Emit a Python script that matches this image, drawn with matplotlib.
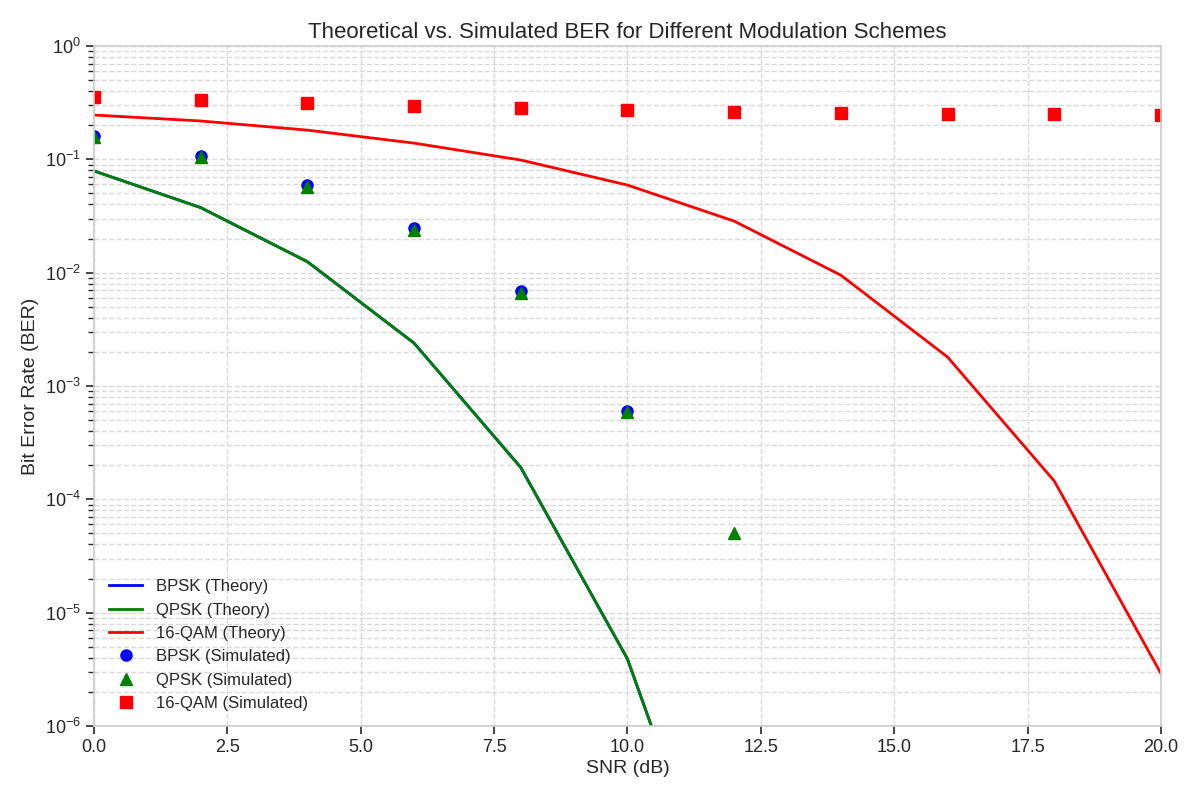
import numpy as np
import matplotlib
matplotlib.use("Agg")
from matplotlib import pyplot as plt

# SNR points in dB
snr_db = [0, 2, 4, 6, 8, 10, 12, 14, 16, 18, 20]

# Theoretical curves (BPSK and QPSK overlap)
ber_bpsk_theory = [7.9e-2, 3.75e-2, 1.25e-2, 2.39e-3, 1.91e-4, 3.9e-6, 9.0e-9, 6.8e-13, 2.3e-19, 1e-26, 1e-36]
ber_qpsk_theory = [7.9e-2, 3.75e-2, 1.25e-2, 2.39e-3, 1.91e-4, 3.9e-6, 9.0e-9, 6.8e-13, 2.3e-19, 1e-26, 1e-36]
ber_qam16_theory = [0.246, 0.218, 0.181, 0.139, 0.0986, 0.0593, 0.0285, 0.0095, 0.0018, 1.45e-4, 2.9e-6]

# Simulated points (nan = no errors counted)
ber_bpsk_sim = [0.160, 0.107, 0.059, 0.0248, 0.0069, 6.0e-4, np.nan, np.nan, np.nan, np.nan, np.nan]
ber_qpsk_sim = [0.158, 0.104, 0.057, 0.0240, 0.0066, 5.9e-4, 5.0e-5, np.nan, np.nan, np.nan, np.nan]
ber_qam16_sim = [0.355, 0.334, 0.314, 0.295, 0.284, 0.272, 0.262, 0.256, 0.251, 0.251, 0.246]

plt.rcParams['font.family'] = ['Liberation Sans', 'DejaVu Sans']
plt.rcParams['mathtext.default'] = 'regular'
plt.rcParams['text.color'] = '#262626'
plt.rcParams['axes.labelcolor'] = '#262626'
plt.rcParams['xtick.color'] = '#262626'
plt.rcParams['ytick.color'] = '#262626'

fig, ax = plt.subplots(figsize=(12, 8), dpi=100)
fig.subplots_adjust(left=0.0783, right=0.9675, top=0.9425, bottom=0.0925)

ax.semilogy(snr_db, ber_bpsk_theory, color='blue', linewidth=2, label='BPSK (Theory)')
ax.semilogy(snr_db, ber_qpsk_theory, color='green', linewidth=2, label='QPSK (Theory)')
ax.semilogy(snr_db, ber_qam16_theory, color='red', linewidth=2, label='16-QAM (Theory)')
ax.semilogy(snr_db, ber_bpsk_sim, 'o', color='blue', markersize=8, label='BPSK (Simulated)')
ax.semilogy(snr_db, ber_qpsk_sim, '^', color='green', markersize=8, label='QPSK (Simulated)')
ax.semilogy(snr_db, ber_qam16_sim, 's', color='red', markersize=8, label='16-QAM (Simulated)')

ax.set_xlim(0, 20)
ax.set_ylim(1e-6, 1)
ax.grid(True, which='both', linestyle='--', color='#d9d9d9', linewidth=1)
for s in ax.spines.values():
    s.set_color('#cccccc')
    s.set_linewidth(1.2)
ax.tick_params(axis='both', which='major', length=6, width=1.2, labelsize=13)
ax.tick_params(axis='y', which='minor', length=4, width=1)

ax.set_title('Theoretical vs. Simulated BER for Different Modulation Schemes', fontsize=16)
ax.set_xlabel('SNR (dB)', fontsize=14, labelpad=3)
ax.set_ylabel('Bit Error Rate (BER)', fontsize=14)
ax.legend(loc='lower left', frameon=False, fontsize=12)

plt.savefig('out.png')
